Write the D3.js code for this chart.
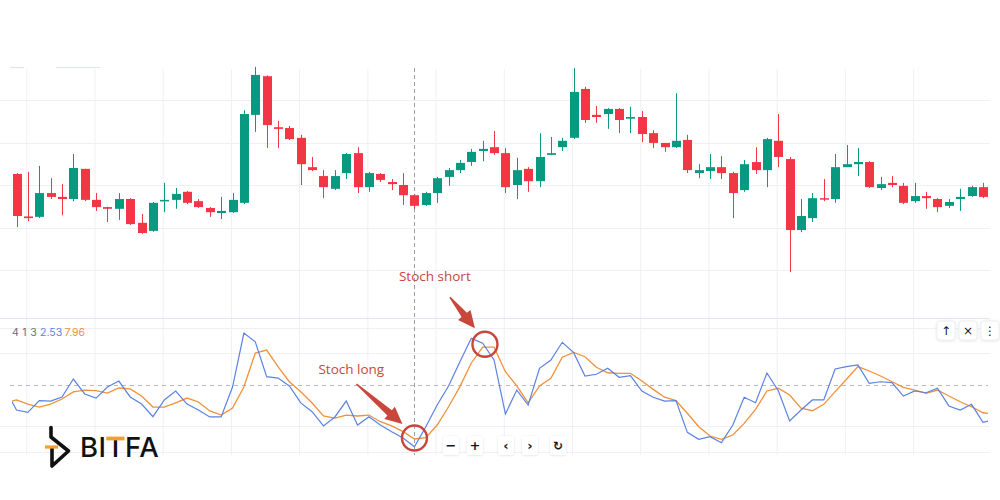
<!DOCTYPE html>
<html><head><meta charset="utf-8">
<script src="https://cdn.jsdelivr.net/npm/d3@7"></script>
<style>html,body{margin:0;padding:0;background:#fff;}svg{display:block;}</style>
</head><body>
<svg id="c" width="1000" height="500"></svg>
<script>
// ---- data (prices in arbitrary units, stochastic 0-100) ----
const open  = [122.6,112.6,112.5,118.1,117.2,116.7,123.8,116.5,114.8,114.4,116.7,111.1,109.2,116.2,116.5,118.4,116.2,114.6,113.4,113.6,
 115.8,136.5,145.6,133.6,133.4,131.1,124.2,122.1,119.1,122.8, 127.5,119.5,122.6,120.7,120.0,117.6,115.3,118.1,121.9,123.5,
 125.4,128.0,128.9,127.5,120.0,123.8,120.9,127.1,128.9,131.1, 142.6,136.5,136.7,137.9,135.6,136.0,132.2,129.9,128.9,130.6,
 122.8,123.3,124.2,122.8,118.8,125.4,123.5,130.4,126.1,109.4, 112.2,116.9,116.7,124.2,124.9,125.4,119.3,120.5,119.8,116.2,
 117.4,116.7,115.1,116.7,117.4,119.5];
const close = [112.7,112.2,118.1,117.2,116.7,124.0,116.5,114.8,114.4,116.7,110.8,108.7,115.8,116.5,117.9,115.8,114.8,113.6,113.9,116.5,
 136.7,145.9,134.1,133.2,130.8,124.9,123.5,119.5,122.1,127.3, 119.5,122.8,121.2,120.2,117.6,115.1,118.1,121.6,123.5,125.2,
 127.8,128.5,127.5,119.5,123.5,120.9,126.6,127.5,130.4,141.9, 135.3,136.0,137.9,135.3,136.0,132.0,129.9,128.9,130.4,123.5,
 123.5,124.2,122.8,118.1,124.9,123.5,130.8,126.6,109.4,112.7, 116.9,116.6,124.2,124.9,125.4,119.5,120.2,120.0,115.8,117.4,
 116.9,114.8,116.0,117.2,119.5,117.2];
const high  = [122.8,123.1,124.5,121.6,120.2,127.3,123.8,118.1,114.9,118.1,116.9,113.2,116.0,120.5,119.3,118.6,116.7,114.8,117.2,118.1,
 137.6,147.8,145.8,135.1,133.9,131.8,126.6,123.5,123.5,127.5, 128.9,123.1,122.8,121.4,122.8,117.8,118.4,121.9,124.0,125.9,
 128.5,130.4,132.7,128.7,126.4,124.2,132.2,131.3,131.1,147.5, 143.1,138.6,138.1,138.1,138.4,137.4,132.9,129.9,141.6,131.8,
 124.9,127.3,126.8,123.1,125.9,128.9,131.1,136.7,126.6,116.7, 118.1,121.4,127.3,129.4,128.7,125.6,121.9,122.1,120.5,120.5,
 118.4,116.9,116.7,119.1,119.8,120.5];
const low   = [110.1,111.5,112.2,116.7,112.9,116.2,116.2,113.9,111.3,111.8,110.6,108.5,109.0,113.6,114.4,115.5,114.6,112.5,112.0,113.4,
 115.5,132.5,128.7,128.7,130.6,120.0,123.3,116.9,118.8,121.4, 118.1,118.4,120.7,118.8,115.3,114.4,115.1,115.8,119.8,122.8,
 124.5,125.6,127.1,118.1,116.7,118.4,119.5,127.0,128.0,130.8, 134.6,134.6,133.2,132.2,132.2,130.1,128.7,127.8,128.7,122.8,
 121.6,121.4,121.4,112.2,118.4,122.6,119.5,124.2,99.5,108.9, 111.3,116.2,115.8,124.2,122.1,119.3,118.8,119.5,115.5,115.8,
 114.4,113.6,114.6,113.9,117.2,116.9];
// stochastic %K (blue) and %D (orange), bar index 0..87
const stochK = [47.1,31.6,29.9,38.5,38.2,41.2,54.4,43.4,40.4,48.5,52.9,
 41.2,36.0,26.7,39.0,45.6,36.0,31.6,26.5,26.5,48.5, 88.2,81.8,56.1,55.1,49.3,36.8,30.4,19.9,26.5,38.2,
 20.6,26.7,20.6,15.7,11.0,4.6,19.3,35.3,49.3,67.1, 84.3,80.7,68.4,28.7,46.3,35.3,62.3,68.4,81.4,73.8,
 56.6,57.9,62.3,55.7,56.8,45.6,41.0,38.2,38.5,15.2, 10.1,12.0,7.6,20.6,41.0,37.0,58.8,45.8,23.5,31.6,
 39.0,39.0,61.8,63.5,64.7,51.3,52.4,51.7,41.9,45.6, 44.3,47.6,34.6,31.6,35.8,22.6,24.3];
const stochD = [36.8,39.0,36.0,33.8,36.0,39.7,44.9,46.3,45.8,44.1,47.8,
 47.1,41.9,33.8,33.8,36.8,40.4,37.5,30.9,27.9,33.1, 48.5,73.5,75.7,63.5,52.4,45.1,36.8,27.2,25.7,27.9,
 27.2,27.9,23.0,19.9,15.7,10.3,11.3,20.6,34.0,48.8, 66.2,77.9,77.9,59.8,49.3,36.8,49.3,54.9,70.4,74.0,
 70.8,63.0,59.0,58.6,58.6,52.9,46.8,41.0,38.5,29.2, 19.3,12.5,10.1,13.2,21.8,32.1,45.6,47.6,42.6,32.9,
 31.1,35.8,45.1,54.2,63.5,60.3,56.6,52.4,48.3,46.3, 43.9,46.3,41.9,37.7,34.0,29.6,28.7];
const priceGrid = [100,110,120,130,140];
const stochGrid = [0.7,19.9,73.5,91.9];
const stochMid = 50;
const timeGrid = [1.9,7.9,13.9,19.9,25.9,31.9,37.9,43.9,49.9,55.9,61.9,67.9,73.9,79.9];
const crosshairIdx = 36;
const legendParams = "4 1 3", legendK = "2.53", legendD = "7.96";
const annotations = [
  {label:"Stoch long", idx:36, val:11, tip:[-12,-14], tail:[-58,-54], text:[-96,-64]},
  {label:"Stoch short", idx:42.2, val:80, tip:[-10,-16], tail:[-35,-47], text:[-86,-63]}
];
const navButtons = ["−","+","‹","›","↻"];
const paneButtons = ["↑","×","⋮"];

// ---- layout ----
const svg = d3.select("#c");
const L = 0, R = 990;
const x = d3.scaleLinear().domain([1,86]).range([16.5, 16.5+85*11.37]);
const yP = d3.scaleLinear().domain([100,140]).range([270,100]);
const yS = d3.scaleLinear().domain([0,100]).range([453,317]);
const GREEN="#089981", RED="#f23645", GRID="#eef0f5";

const defs = svg.append("defs");
defs.append("clipPath").attr("id","clip").append("rect").attr("x",12).attr("y",60).attr("width",976).attr("height",400);
const sh = defs.append("filter").attr("id","sh").attr("x","-30%").attr("y","-30%").attr("width","160%").attr("height","160%");
sh.append("feDropShadow").attr("dx",0).attr("dy",0.5).attr("stdDeviation",1.2).attr("flood-color","#000").attr("flood-opacity",0.13);

// faint legend remnants at top
svg.append("line").attr("x1",10).attr("x2",24).attr("y1",67.5).attr("y2",67.5).attr("stroke","#dfe5f0").attr("stroke-width",1.2);
svg.append("line").attr("x1",56).attr("x2",100).attr("y1",67.5).attr("y2",67.5).attr("stroke","#dfe5f0").attr("stroke-width",1.2);

// grids
const g = svg.append("g");
g.selectAll(".vg").data(timeGrid).join("line").attr("x1",d=>x(d)).attr("x2",d=>x(d))
  .attr("y1",69).attr("y2",455).attr("stroke",GRID).attr("stroke-width",1);
g.selectAll(".pg").data(priceGrid).join("line").attr("x1",L).attr("x2",R)
  .attr("y1",d=>Math.round(yP(d))+0.5).attr("y2",d=>Math.round(yP(d))+0.5).attr("stroke",GRID);
g.selectAll(".sg").data(stochGrid).join("line").attr("x1",L).attr("x2",R)
  .attr("y1",d=>Math.round(yS(d))+0.5).attr("y2",d=>Math.round(yS(d))+0.5).attr("stroke",GRID);
g.append("line").attr("x1",L).attr("x2",R).attr("y1",318.5).attr("y2",318.5).attr("stroke","#e3e6ec");
g.append("line").attr("x1",10).attr("x2",988).attr("y1",Math.round(yS(stochMid))+0.5).attr("y2",Math.round(yS(stochMid))+0.5)
  .attr("stroke","#b6b9c2").attr("stroke-dasharray","4,4");
g.append("line").attr("x1",Math.round(x(crosshairIdx))+0.5).attr("x2",Math.round(x(crosshairIdx))+0.5).attr("y1",68).attr("y2",455)
  .attr("stroke","#9a9da6").attr("stroke-dasharray","4,3");

// candles
const candles = open.map((o,i)=>({i:i+1,o,c:close[i],h:high[i],l:low[i]}));
const cg = svg.append("g").attr("clip-path","url(#clip)");
const cs = cg.selectAll("g.k").data(candles).join("g");
cs.append("line").attr("x1",d=>Math.round(x(d.i))+0.5).attr("x2",d=>Math.round(x(d.i))+0.5)
  .attr("y1",d=>yP(d.h)).attr("y2",d=>yP(d.l)).attr("stroke",d=>d.c>=d.o?GREEN:RED).attr("stroke-width",1);
cs.append("rect").attr("x",d=>Math.round(x(d.i))-4).attr("width",9)
  .attr("y",d=>yP(Math.max(d.o,d.c))).attr("height",d=>Math.max(1.5,Math.abs(yP(d.o)-yP(d.c))))
  .attr("fill",d=>d.c>=d.o?GREEN:RED);

// stochastic lines
const line = d3.line().x((d,i)=>x(i)).y(d=>yS(d));
cg.append("path").attr("d",line(stochD)).attr("fill","none").attr("stroke","#f0913a").attr("stroke-width",1.3);
cg.append("path").attr("d",line(stochK)).attr("fill","none").attr("stroke","#5b82e3").attr("stroke-width",1.2);

// legend
const lg = svg.append("g").attr("font-family","Inter, 'Noto Sans', sans-serif").attr("font-size",10.5);
lg.append("text").attr("x",12).attr("y",336).attr("fill","#6a6d78").attr("letter-spacing",0.3).text(legendParams);
lg.append("text").attr("x",40).attr("y",336).attr("fill","#5b82e3").text(legendK);
lg.append("text").attr("x",64.5).attr("y",336).attr("fill","#f0913a").text(legendD);

// annotations
const RC = "#c8463c";
function arrowPts(x1,y1,x2,y2){
  const dx=x2-x1, dy=y2-y1, Ln=Math.hypot(dx,dy), ux=dx/Ln, uy=dy/Ln, nx=-uy, ny=ux;
  const hl=17, hw=8, s0=0.7, s1=3.4;
  const bx=x2-ux*hl, by=y2-uy*hl;
  return [[x1+nx*s0,y1+ny*s0],[bx+nx*s1,by+ny*s1],[bx+nx*hw,by+ny*hw],[x2,y2],[bx-nx*hw,by-ny*hw],[bx-nx*s1,by-ny*s1],[x1-nx*s0,y1-ny*s0]];
}
annotations.forEach(a=>{
  const cx=x(a.idx), cy=yS(a.val);
  svg.append("circle").attr("cx",cx).attr("cy",cy).attr("r",12.5).attr("fill","none").attr("stroke",RC).attr("stroke-width",2.4);
  svg.append("polygon").attr("points",arrowPts(cx+a.tail[0],cy+a.tail[1],cx+a.tip[0],cy+a.tip[1]).map(p=>p.join(",")).join(" ")).attr("fill",RC);
  svg.append("text").attr("x",cx+a.text[0]).attr("y",cy+a.text[1]).attr("fill",RC)
    .attr("font-family","'Open Sans', Inter, sans-serif").attr("font-size",13.5).text(a.label);
});

// nav buttons
const nbx = [443,467,498,522,550];
navButtons.forEach((b,i)=>{
  const bg = svg.append("g").attr("transform",`translate(${nbx[i]},436)`);
  bg.append("rect").attr("width",16).attr("height",19).attr("rx",3).attr("fill","#fff").attr("filter","url(#sh)");
  bg.append("text").attr("x",8).attr("y",14).attr("text-anchor","middle").attr("font-family","'DejaVu Sans', sans-serif")
    .attr("font-size",b==="↻"?12:13).attr("font-weight","bold").attr("fill","#131722").text(b);
});
const pbx = [937,959,981];
paneButtons.forEach((b,i)=>{
  const bg = svg.append("g").attr("transform",`translate(${pbx[i]},321)`);
  bg.append("rect").attr("width",18).attr("height",19).attr("rx",3).attr("fill","#fff").attr("stroke","#eceef2").attr("filter","url(#sh)");
  bg.append("text").attr("x",9).attr("y",14).attr("text-anchor","middle").attr("font-family","'DejaVu Sans', sans-serif")
    .attr("font-size",12).attr("fill","#131722").text(b);
});

// logo
const logo = svg.append("g");
logo.append("path").attr("d","M51,427.5 L51,437 L68.5,451 L52,466 L52,448").attr("fill","none").attr("stroke","#111")
  .attr("stroke-width",3.6).attr("stroke-linejoin","round").attr("stroke-linecap","round");
logo.append("line").attr("x1",45).attr("x2",58).attr("y1",447).attr("y2",447).attr("stroke","#f0a030").attr("stroke-width",3.2);
const lt = logo.append("text").attr("x",80).attr("y",457).attr("font-family","Inter, sans-serif").attr("font-size",27.5)
  .attr("font-weight",500).attr("fill","#111").attr("letter-spacing",0.5).text("BITFA");
try{
  const n = lt.node(); const s = n.getStartPositionOfChar(2).x, e = n.getEndPositionOfChar(2).x;
  logo.append("rect").attr("x",s-0.3).attr("y",436.6).attr("width",e-s-0.2).attr("height",3.8).attr("fill","#f0a030");
}catch(err){}
</script>
</body></html>
